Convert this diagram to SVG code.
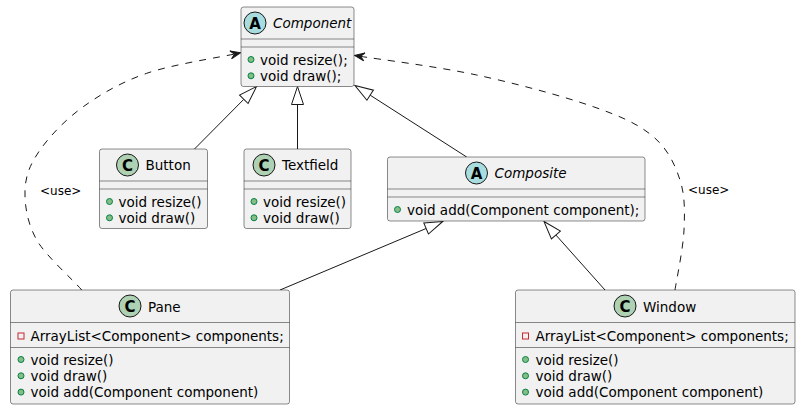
<svg xmlns="http://www.w3.org/2000/svg" xmlns:xlink="http://www.w3.org/1999/xlink" width="801" height="410" viewBox="0 0 801 410">
<style>
.box{fill:#F1F1F1;stroke:#181818;stroke-width:0.5}
.sep{stroke:#181818;stroke-width:0.5}
.t{font-family:"DejaVu Sans","Liberation Sans",sans-serif;font-size:13.5px;fill:#000000}
.ti{font-style:italic}
.pub{fill:#84BE84;stroke:#038048;stroke-width:1}
.priv{fill:none;stroke:#C82930;stroke-width:1}
.ic{fill:#ADD1B2;stroke:#181818;stroke-width:1}
.ia{fill:#A9DCDF;stroke:#181818;stroke-width:1}
.il{font-family:"DejaVu Sans","Liberation Sans",sans-serif;font-weight:bold;font-size:15px;text-anchor:middle;fill:#000000}
.ext{fill:none;stroke:#181818;stroke-width:1}
.tri{fill:#FFFFFF;stroke:#181818;stroke-width:1}
.dep{fill:none;stroke:#181818;stroke-width:1;stroke-dasharray:7,7}
.head{fill:#181818;stroke:#181818;stroke-width:1}
.lbl{font-family:"DejaVu Sans","Liberation Sans",sans-serif;font-size:12px;fill:#000000}
</style>
<defs>
<polygon id="tri" class="tri" points="0,0 18,-6 18,6"/>
<polygon id="dhead" class="head" points="0,0 -10,-4 -6,0 -10,4"/>
</defs>

<g id="connectors">
<line class="ext" x1="194.5" y1="149" x2="243.8" y2="99.3"/>
<use xlink:href="#tri" transform="translate(256.5,86.5) rotate(134.8)"/>
<line class="ext" x1="297.5" y1="149" x2="297.5" y2="104.5"/>
<use xlink:href="#tri" transform="translate(297.5,86.5) rotate(90)"/>
<line class="ext" x1="466.7" y1="157" x2="370.2" y2="95.2"/>
<use xlink:href="#tri" transform="translate(355,85.5) rotate(32.6)"/>
<line class="ext" x1="280" y1="290" x2="426.1" y2="228.5"/>
<use xlink:href="#tri" transform="translate(442.7,221.5) rotate(157.2)"/>
<line class="ext" x1="605" y1="290" x2="555.9" y2="235"/>
<use xlink:href="#tri" transform="translate(544,221.5) rotate(48.5)"/>
<path class="dep" d="M81.7,290 C74.2,280.8 46.2,256.5 36.7,240 C27.3,223.3 24.5,205 25,190 C25.6,175 30.3,163.9 40,150 C49.7,136.1 65.5,119.5 83.3,106.7 C101.1,93.9 121.3,82.1 146.7,73.3 C172.1,64.5 220.8,57.1 235.6,53.8"/>
<use xlink:href="#dhead" transform="translate(240.5,52.8) rotate(-12)"/>
<text class="lbl" x="40" y="195">&lt;use&gt;</text>
<path class="dep" d="M675,290 C676.5,280 683.2,248.3 684,230 C684.8,211.7 685.1,195.6 680,180 C674.9,164.5 667.8,148.9 653.3,136.7 C638.9,124.5 622.7,117 593.3,106.7 C563.9,96.4 515.7,83.4 476.7,75 C437.7,66.6 379,59.3 359.4,56.2"/>
<use xlink:href="#dhead" transform="translate(354.5,55.4) rotate(189)"/>
<text class="lbl" x="688" y="194">&lt;use&gt;</text>
</g>

<g id="Component">
<rect class="box" x="241" y="7" width="113" height="79.5" rx="2.5"/>
<line class="sep" x1="241" y1="39" x2="354" y2="39"/>
<line class="sep" x1="241" y1="47" x2="354" y2="47"/>
<circle class="ia" cx="255" cy="23" r="11"/>
<text class="il" x="255" y="28.5">A</text>
<text class="t ti" x="273" y="28">Component</text>
<circle class="pub" cx="251" cy="59.5" r="3"/>
<text class="t" x="260" y="64.5">void resize();</text>
<circle class="pub" cx="251" cy="75.8" r="3"/>
<text class="t" x="260" y="80.8">void draw();</text>
</g>

<g id="Button">
<rect class="box" x="99.5" y="149" width="108" height="79.5" rx="2.5"/>
<line class="sep" x1="99.5" y1="181" x2="207.5" y2="181"/>
<line class="sep" x1="99.5" y1="189" x2="207.5" y2="189"/>
<circle class="ic" cx="127.5" cy="165" r="11"/>
<text class="il" x="127.5" y="170.5">C</text>
<text class="t" x="145.5" y="170">Button</text>
<circle class="pub" cx="109.5" cy="201.5" r="3"/>
<text class="t" x="118.5" y="206.5">void resize()</text>
<circle class="pub" cx="109.5" cy="217.8" r="3"/>
<text class="t" x="118.5" y="222.8">void draw()</text>
</g>

<g id="Textfield">
<rect class="box" x="244" y="149" width="107" height="79.5" rx="2.5"/>
<line class="sep" x1="244" y1="181" x2="351" y2="181"/>
<line class="sep" x1="244" y1="189" x2="351" y2="189"/>
<circle class="ic" cx="264" cy="165" r="11"/>
<text class="il" x="264" y="170.5">C</text>
<text class="t" x="282" y="170">Textfield</text>
<circle class="pub" cx="254" cy="201.5" r="3"/>
<text class="t" x="263" y="206.5">void resize()</text>
<circle class="pub" cx="254" cy="217.8" r="3"/>
<text class="t" x="263" y="222.8">void draw()</text>
</g>

<g id="Composite">
<rect class="box" x="387.5" y="157" width="257.5" height="64" rx="2.5"/>
<line class="sep" x1="387.5" y1="189" x2="645" y2="189"/>
<line class="sep" x1="387.5" y1="197" x2="645" y2="197"/>
<circle class="ia" cx="476.5" cy="173" r="11"/>
<text class="il" x="476.5" y="178.5">A</text>
<text class="t ti" x="494.5" y="178">Composite</text>
<circle class="pub" cx="397.5" cy="209.5" r="3"/>
<text class="t" x="407" y="214.5">void add(Component component);</text>
</g>

<g id="Pane">
<rect class="box" x="10.5" y="290" width="279" height="114" rx="2.5"/>
<line class="sep" x1="10.5" y1="322.5" x2="289.5" y2="322.5"/>
<line class="sep" x1="10.5" y1="347.5" x2="289.5" y2="347.5"/>
<circle class="ic" cx="130" cy="306" r="11"/>
<text class="il" x="130" y="311.5">C</text>
<text class="t" x="148" y="311.5">Pane</text>
<rect class="priv" x="18" y="333" width="6" height="6"/>
<text class="t" x="30.5" y="341">ArrayList&lt;Component&gt; components;</text>
<circle class="pub" cx="21" cy="359.5" r="3"/>
<text class="t" x="30.5" y="364.5">void resize()</text>
<circle class="pub" cx="21" cy="375.8" r="3"/>
<text class="t" x="30.5" y="380.8">void draw()</text>
<circle class="pub" cx="21" cy="392.1" r="3"/>
<text class="t" x="30.5" y="397.1">void add(Component component)</text>
</g>

<g id="Window">
<rect class="box" x="515.5" y="290" width="279.5" height="114" rx="2.5"/>
<line class="sep" x1="515.5" y1="322.5" x2="795" y2="322.5"/>
<line class="sep" x1="515.5" y1="347.5" x2="795" y2="347.5"/>
<circle class="ic" cx="625" cy="306" r="11"/>
<text class="il" x="625" y="311.5">C</text>
<text class="t" x="643" y="311.5">Window</text>
<rect class="priv" x="522.5" y="333" width="6" height="6"/>
<text class="t" x="535.5" y="341">ArrayList&lt;Component&gt; components;</text>
<circle class="pub" cx="525.5" cy="359.5" r="3"/>
<text class="t" x="535.5" y="364.5">void resize()</text>
<circle class="pub" cx="525.5" cy="375.8" r="3"/>
<text class="t" x="535.5" y="380.8">void draw()</text>
<circle class="pub" cx="525.5" cy="392.1" r="3"/>
<text class="t" x="535.5" y="397.1">void add(Component component)</text>
</g>
</svg>
